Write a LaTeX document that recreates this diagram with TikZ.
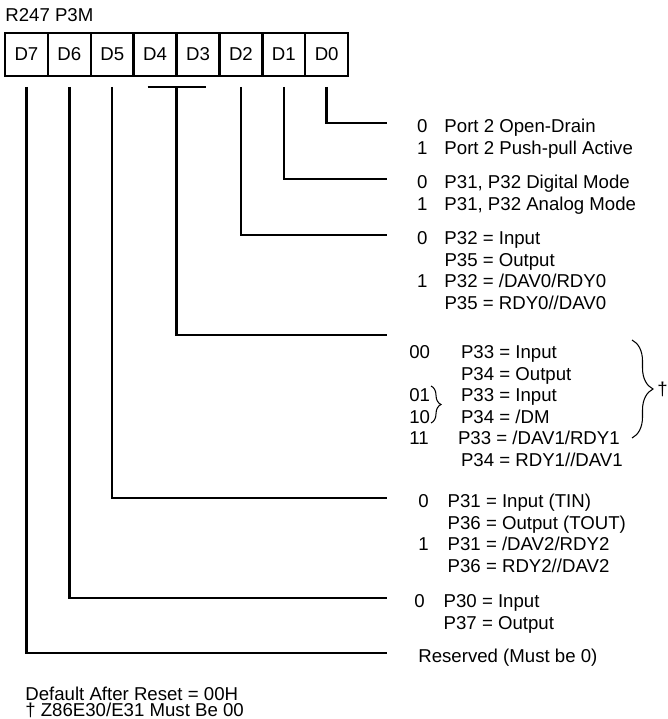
\documentclass[tikz,border=0pt]{standalone}
\usepackage{fontspec}
\setmainfont{Liberation Sans}
\usetikzlibrary{positioning, calc, decorations.pathreplacing}
\newcommand{\regfont}{\fontsize{10.6}{12.28}\selectfont}

\begin{document}
\begin{tikzpicture}[
    x=0.02cm, y=-0.02cm,
    cell/.style={rectangle, draw, line width=1.4pt, outer sep=0pt, inner sep=0pt, minimum width=0.858cm, minimum height=0.86cm, font=\regfont},
    desc/.style={anchor=base west, inner sep=0pt, font=\regfont},
    wire/.style={line width=1.4pt},
    bracket/.style={decorate, decoration={brace, amplitude=#1}, line width=0.6pt},
]
\useasboundingbox (0,0) rectangle (668,719);

\node[desc] (title) at (5,22) {R247 P3M};

\node[cell] (c7) at (26.45,54.5) {D7};
\node[cell, right=0pt of c7] (c6) {D6};
\node[cell, right=0pt of c6] (c5) {D5};
\node[cell, right=0pt of c5] (c4) {D4};
\node[cell, right=0pt of c4] (c3) {D3};
\node[cell, right=0pt of c3] (c2) {D2};
\node[cell, right=0pt of c2] (c1) {D1};
\node[cell, right=0pt of c1] (c0) {D0};

\coordinate (e0) at (387,123);
\coordinate (e1) at (387,179);
\coordinate (e2) at (387,235);
\coordinate (e34) at (387,335);
\coordinate (e5) at (387,498);
\coordinate (e6) at (387,598);
\coordinate (e7) at (387,653);

\node[desc] (d0) at (416.8,132.5) {\begin{tabular}[t]{@{}c@{\hspace{0.34cm}}l@{}}
  0 & Port 2 Open-Drain\\
  1 & Port 2 Push-pull Active
\end{tabular}};
\node[desc] (d1) at (416.8,188.5) {\begin{tabular}[t]{@{}c@{\hspace{0.34cm}}l@{}}
  0 & P31, P32 Digital Mode\\
  1 & P31, P32 Analog Mode
\end{tabular}};
\node[desc] (d2) at (416.8,244.5) {\begin{tabular}[t]{@{}c@{\hspace{0.34cm}}l@{}}
  0 & P32 = Input\\
    & P35 = Output\\
  1 & P32 = /DAV0/RDY0\\
    & P35 = RDY0//DAV0
\end{tabular}};
\node[desc] (d34) at (409,358.5) {\begin{tabular}[t]{@{}l@{\hspace{0.62cm}}l@{}}
  00 & P33 = Input\\
     & P34 = Output\\
  01 & P33 = Input\\
  10 & P34 = /DM\\
  11 & \hspace*{-0.06cm}P33 = /DAV1/RDY1\\
     & P34 = RDY1//DAV1
\end{tabular}};
\node[desc] (d5) at (418,507.5) {\begin{tabular}[t]{@{}c@{\hspace{0.38cm}}l@{}}
  0 & P31 = Input (TIN)\\
    & P36 = Output (TOUT)\\
  1 & P31 = /DAV2/RDY2\\
    & P36 = RDY2//DAV2
\end{tabular}};
\node[desc] (d6) at (414,607.5) {\begin{tabular}[t]{@{}c@{\hspace{0.38cm}}l@{}}
  0 & P30 = Input\\
    & P37 = Output
\end{tabular}};
\node[desc] (d7) at (418,662.5) {Reserved (Must be 0)};

\draw[bracket=0.2cm] (431,386) -- (431,423);
\draw[bracket=0.42cm] (632,340) -- (632,438);
\node[desc] (dag) at (657,395) {†};

\draw[wire] ($(c0.south)+(0,11)$) |- (e0);
\draw[wire] ($(c1.south)+(0,11)$) |- (e1);
\draw[wire] ($(c2.south)+(0,11)$) |- (e2);
\draw[wire] ($(c4.south east)+(-29,11)$) -- ($(c4.south east)+(29,11)$);
\draw[wire] ($(c4.south east)+(0,11)$) |- (e34);
\draw[wire] ($(c5.south)+(0,11)$) |- (e5);
\draw[wire] ($(c6.south)+(0,11)$) |- (e6);
\draw[wire] ($(c7.south)+(0,11)$) |- (e7);

\node[desc] (reset) at (25,700) {Default After Reset = 00H};
\node[desc] (note) at (25,716.7) {† Z86E30/E31 Must Be 00};

\end{tikzpicture}
\end{document}
